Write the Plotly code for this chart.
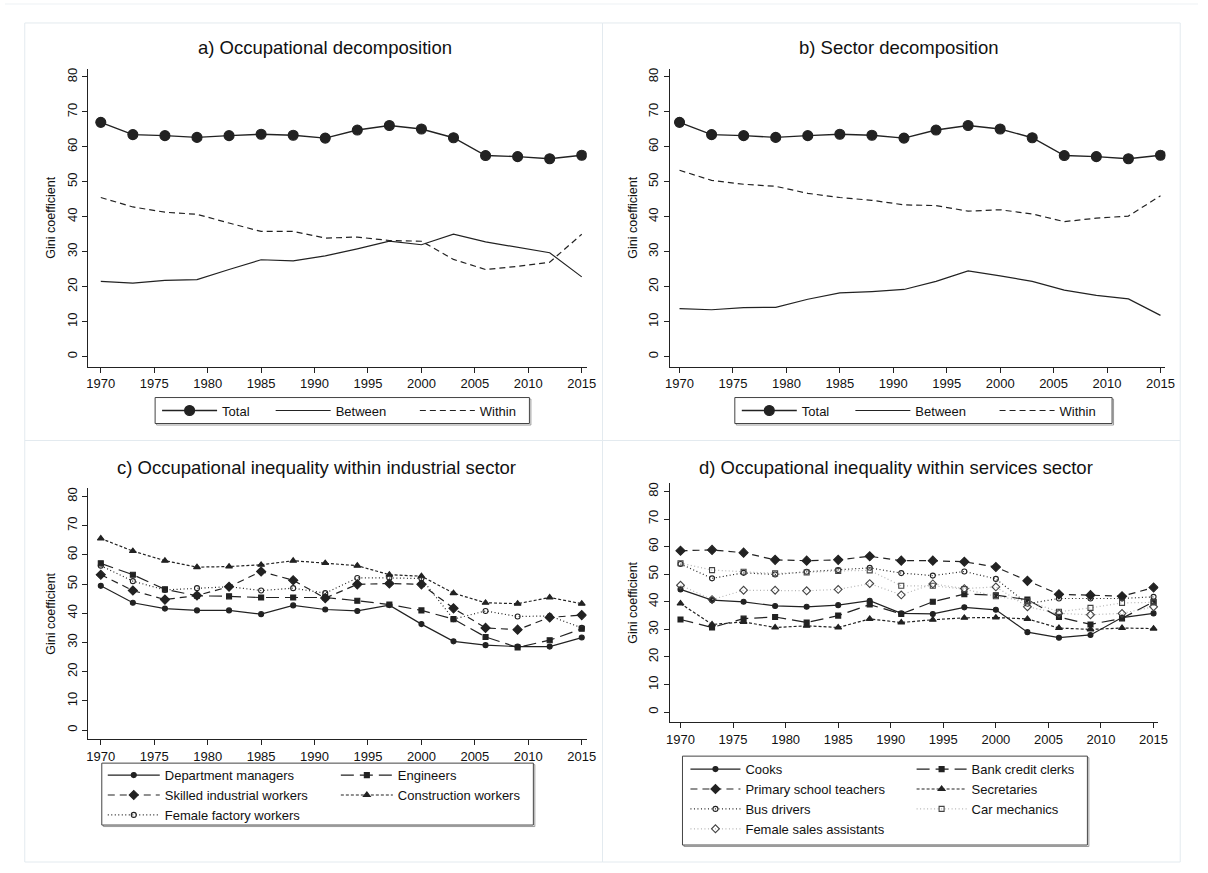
import plotly.graph_objects as go

W, H = 1208, 873

years = [1970, 1973, 1976, 1979, 1982, 1985, 1988, 1991, 1994, 1997, 2000, 2003, 2006, 2009, 2012, 2015]
x_ticks = [1970, 1975, 1980, 1985, 1990, 1995, 2000, 2005, 2010, 2015]
y_ticks = [0, 10, 20, 30, 40, 50, 60, 70, 80]

# Panel a / b
total = [67.0, 63.5, 63.2, 62.7, 63.2, 63.6, 63.3, 62.5, 64.8, 66.1, 65.1, 62.6, 57.5, 57.2, 56.6, 57.6]
occ_between = [21.5, 21.0, 21.8, 22.0, 24.9, 27.7, 27.4, 28.8, 30.8, 33.0, 32.0, 35.0, 32.8, 31.2, 29.7, 22.8]
occ_within = [45.5, 42.8, 41.3, 40.7, 38.2, 35.8, 35.8, 33.9, 34.2, 33.2, 33.0, 27.8, 24.9, 25.8, 27.0, 35.0]
sec_between = [13.7, 13.4, 14.0, 14.1, 16.4, 18.2, 18.6, 19.2, 21.5, 24.5, 23.1, 21.5, 19.0, 17.5, 16.5, 11.8]
sec_within = [53.3, 50.4, 49.3, 48.7, 46.7, 45.5, 44.7, 43.4, 43.2, 41.6, 42.0, 40.8, 38.6, 39.6, 40.2, 46.0]

# Panel c (industrial sector)
dept_managers = [49.4, 43.6, 41.6, 41.0, 41.0, 39.7, 42.7, 41.3, 40.8, 42.8, 36.3, 30.4, 29.1, 28.6, 28.6, 31.7]
engineers = [57.1, 53.2, 48.2, 46.0, 45.8, 45.4, 45.4, 45.4, 44.3, 43.0, 41.0, 38.0, 31.9, 28.3, 30.8, 34.7]
skilled_workers = [53.2, 47.8, 44.7, 46.1, 49.1, 54.3, 51.3, 45.2, 49.9, 50.2, 49.9, 41.7, 35.0, 34.4, 38.6, 39.4]
construction = [65.6, 61.3, 58.0, 55.8, 56.0, 56.6, 58.0, 57.2, 56.3, 53.2, 52.7, 46.9, 43.6, 43.3, 45.4, 43.3]
female_factory = [56.3, 51.0, 48.0, 48.6, 49.1, 47.8, 48.6, 46.9, 52.1, 52.1, 51.9, 38.0, 40.8, 38.9, 39.1, 35.0]

# Panel d (services sector)
cooks = [44.5, 40.6, 40.0, 38.5, 38.2, 38.8, 40.4, 35.8, 35.6, 38.0, 37.1, 29.0, 27.0, 28.0, 34.3, 35.8]
bank_clerks = [33.6, 30.7, 33.9, 34.5, 32.5, 35.0, 39.0, 35.6, 40.0, 42.8, 42.4, 40.8, 34.5, 31.8, 34.0, 40.0]
teachers = [58.5, 58.8, 57.8, 55.2, 54.9, 55.2, 56.5, 54.9, 54.9, 54.5, 52.6, 47.6, 42.7, 42.4, 42.0, 45.2]
secretaries = [39.4, 31.8, 32.7, 30.7, 31.3, 30.7, 33.8, 32.5, 33.5, 34.2, 34.3, 33.8, 30.5, 30.0, 30.5, 30.3]
bus_drivers = [53.7, 48.5, 50.5, 49.9, 50.9, 51.5, 52.3, 50.4, 49.5, 51.0, 48.3, 39.3, 41.2, 41.2, 41.2, 41.8]
car_mechanics = [54.0, 51.5, 50.9, 50.3, 50.6, 51.2, 51.4, 45.8, 45.8, 44.6, 42.0, 40.2, 36.4, 37.8, 39.6, 39.8]
female_sales = [46.0, 40.8, 44.2, 44.2, 44.0, 44.5, 46.6, 42.5, 46.5, 44.8, 45.4, 38.2, 35.8, 35.3, 35.8, 38.2]

FONT = "Liberation Sans, Arial, Helvetica, sans-serif"
INK = "#222222"
LIGHT = "#b4b4b4"

# pixel geometry of each panel: (x of 1970, x of 2015, axis left, axis right,
#                                y of 80, y of 0, axis top, axis bottom)
geo = {
    "a": (97, 584, 84, 589, 76, 356, 68, 366),
    "b": (683, 1170, 673, 1175, 76, 356, 68, 366),
    "c": (97, 584, 84, 589, 496, 730, 488, 739),
    "d": (684, 1163, 673, 1168, 491, 712, 483, 722),
}
axis_ids = {"a": ("x", "y"), "b": ("x2", "y2"), "c": ("x3", "y3"), "d": ("x4", "y4")}

fig = go.Figure()

layout_axes = {}
for i, key in enumerate(["a", "b", "c", "d"]):
    x70, x15, xl, xr, y80, y0, yt, yb = geo[key]
    kx = (x15 - x70) / 45.0
    ky = (y0 - y80) / 80.0
    xrange_ = [1970 - (x70 - xl) / kx, 2015 + (xr - x15) / kx]
    yrange_ = [0 - (yb - y0) / ky, 80 + (y80 - yt) / ky]
    suffix = "" if i == 0 else str(i + 1)
    layout_axes["xaxis" + suffix] = dict(
        domain=[xl / W, xr / W], range=xrange_, anchor="y" + suffix,
        tickvals=x_ticks, ticks="outside", ticklen=5, tickcolor=INK,
        showline=True, linecolor=INK, linewidth=1, showgrid=False, zeroline=False,
        tickfont=dict(size=13, color="#111", family=FONT), fixedrange=True,
    )
    layout_axes["yaxis" + suffix] = dict(
        domain=[1 - yb / H, 1 - yt / H], range=yrange_, anchor="x" + suffix,
        tickvals=y_ticks, ticks="outside", ticklen=5, tickcolor=INK, tickangle=-90,
        showline=True, linecolor=INK, linewidth=1, showgrid=False, zeroline=False,
        tickfont=dict(size=13, color="#111", family=FONT), fixedrange=True,
        title=dict(text="Gini coefficient", font=dict(size=12.5, color="#111", family=FONT), standoff=6),
    )


def add(panel, y, name, legend, dash="solid", color=INK, width=1.2, symbol=None, msize=5,
        mcolor=INK, mline=None):
    xa, ya = axis_ids[panel]
    mode = "lines+markers" if symbol else "lines"
    marker = None
    if symbol:
        marker = dict(symbol=symbol, size=msize, color=mcolor,
                      line=dict(color=mline or mcolor, width=1.1))
    fig.add_trace(go.Scatter(
        x=years, y=y, name=name, mode=mode, xaxis=xa, yaxis=ya, legend=legend,
        line=dict(color=color, width=width, dash=dash), marker=marker,
        hoverinfo="skip",
    ))


DASH_WITHIN = "6px,4px"
LONG = "13px,6px"
MED = "7px,5px"
SHORT = "3px,2px"
DOT = "1px,2.5px"

# Panel a
add("a", total, "Total", "legend", symbol="circle", msize=10, width=1.4)
add("a", occ_between, "Between", "legend2")
add("a", occ_within, "Within", "legend3", dash=DASH_WITHIN)
# Panel b
add("b", total, "Total", "legend4", symbol="circle", msize=10, width=1.4)
add("b", sec_between, "Between", "legend5")
add("b", sec_within, "Within", "legend6", dash=DASH_WITHIN)
# Panel c
add("c", dept_managers, "Department managers", "legend7", symbol="circle", msize=5)
add("c", engineers, "Engineers", "legend8", dash=LONG, symbol="square", msize=5)
add("c", skilled_workers, "Skilled industrial workers", "legend7", dash=MED, symbol="diamond", msize=7)
add("c", construction, "Construction workers", "legend8", dash=SHORT, symbol="triangle-up", msize=6)
add("c", female_factory, "Female factory workers", "legend7", dash=DOT, symbol="circle-open", msize=5)
# Panel d
add("d", cooks, "Cooks", "legend9", symbol="circle", msize=5)
add("d", bank_clerks, "Bank credit clerks", "legend10", dash=LONG, symbol="square", msize=5)
add("d", teachers, "Primary school teachers", "legend9", dash=MED, symbol="diamond", msize=7)
add("d", secretaries, "Secretaries", "legend10", dash=SHORT, symbol="triangle-up", msize=6)
add("d", bus_drivers, "Bus drivers", "legend9", dash=DOT, symbol="circle-open", msize=5)
add("d", car_mechanics, "Car mechanics", "legend10", dash=DOT, color=LIGHT, symbol="square-open", msize=5, mcolor="#444")
add("d", female_sales, "Female sales assistants", "legend9", dash=DOT, color=LIGHT, symbol="diamond-open", msize=6, mcolor="#444")


def leg(x, y, itemwidth, yanchor="top"):
    return dict(x=x / W, y=1 - y / H, xanchor="left", yanchor=yanchor, xref="paper", yref="paper",
                bgcolor="rgba(0,0,0,0)", borderwidth=0, itemsizing="trace", itemwidth=itemwidth,
                font=dict(size=13, color="#111", family=FONT), tracegroupgap=0,
                itemclick=False, itemdoubleclick=False, orientation="v")


legends = {
    "legend": leg(154, 410, 55, "middle"),
    "legend2": leg(269, 410, 55, "middle"),
    "legend3": leg(415, 410, 55, "middle"),
    "legend4": leg(741, 410, 55, "middle"),
    "legend5": leg(856, 410, 55, "middle"),
    "legend6": leg(1002, 410, 55, "middle"),
    "legend7": leg(99, 760, 52),
    "legend8": leg(335, 760, 52),
    "legend9": leg(689, 754, 50),
    "legend10": leg(918, 754, 50),
}

FRAME = "#e3eaef"
shapes = []
# graph regions (light frames)
for (x0, y0, x1, y1) in [(20, 22, 605, 440), (605, 22, 1190, 440), (20, 440, 605, 862), (605, 440, 1190, 862)]:
    shapes.append(dict(type="rect", xref="paper", yref="paper", x0=x0 / W, x1=x1 / W,
                       y0=1 - y1 / H, y1=1 - y0 / H, line=dict(color=FRAME, width=1)))
shapes.append(dict(type="line", xref="paper", yref="paper", x0=0, x1=1, y0=1 - 3 / H, y1=1 - 3 / H,
                   line=dict(color="#edf1f4", width=1)))
# legend boxes (with slight drop shadow)
for (x0, y0, x1, y1) in [(152, 397, 531, 423), (739, 397, 1121, 423), (98, 763, 535, 825), (686, 756, 1096, 845)]:
    shapes.append(dict(type="rect", xref="paper", yref="paper", x0=(x0 + 1.5) / W, x1=(x1 + 1.5) / W,
                       y0=1 - (y1 + 1.5) / H, y1=1 - (y0 + 1.5) / H, line=dict(color="#9a9a9a", width=1)))
    shapes.append(dict(type="rect", xref="paper", yref="paper", x0=x0 / W, x1=x1 / W,
                       y0=1 - y1 / H, y1=1 - y0 / H, line=dict(color="#444", width=1),
                       fillcolor="white"))

titles = [
    ("a) Occupational decomposition", 324, 47),
    ("b) Sector decomposition", 905, 47),
    ("c) Occupational inequality within industrial sector", 315, 467),
    ("d) Occupational inequality within services sector", 902, 467),
]
annotations = [dict(text=t, x=x / W, y=1 - y / H, xref="paper", yref="paper", showarrow=False,
                    xanchor="center", yanchor="middle", font=dict(size=18.5, color="#111", family=FONT))
               for t, x, y in titles]

fig.update_layout(
    width=W, height=H, margin=dict(l=0, r=0, t=0, b=0),
    paper_bgcolor="white", plot_bgcolor="white",
    font=dict(family=FONT, color="#111"),
    shapes=shapes, annotations=annotations, showlegend=True,
    **layout_axes, **legends,
)
for s in fig.layout.shapes:
    s.layer = "below"

fig.write_html("out.html", config={"displayModeBar": False},
               post_script="document.body.style.margin='0px';document.body.style.overflow='hidden';")
